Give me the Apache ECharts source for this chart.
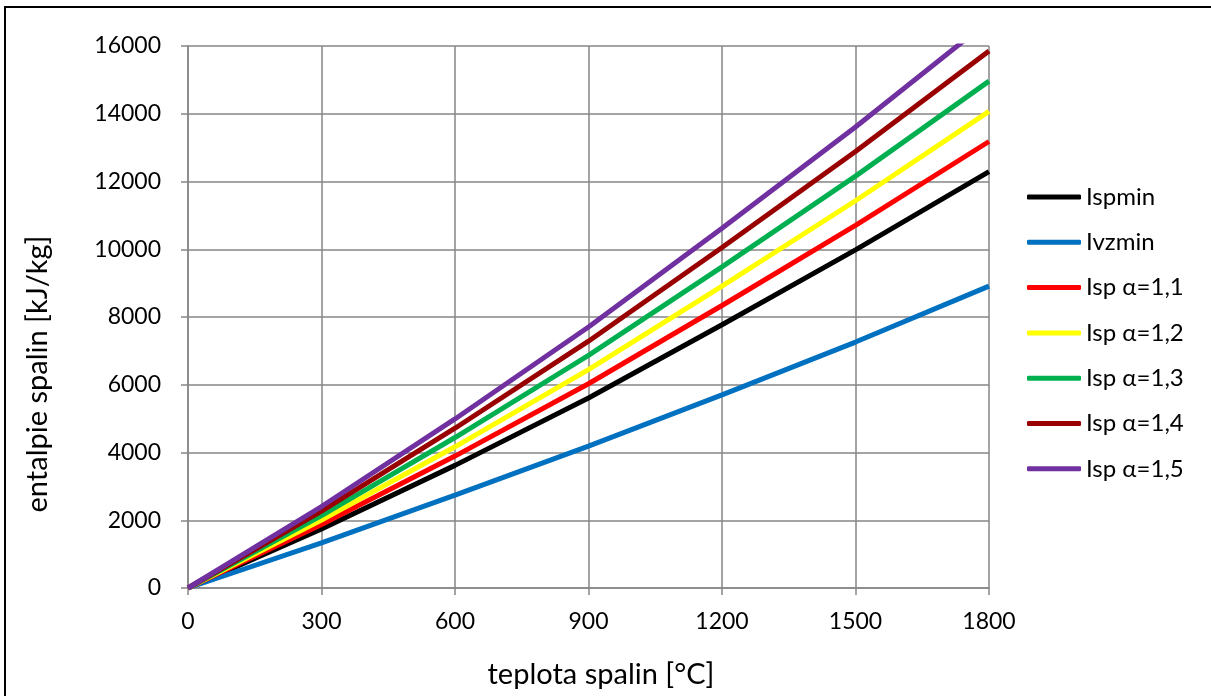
<!DOCTYPE html>
<html>
<head>
<meta charset="utf-8">
<script src="https://cdn.jsdelivr.net/npm/echarts@6/dist/echarts.min.js"></script>
<style>
html,body{margin:0;padding:0;background:#fff;}
#c{width:1211px;height:696px;}
</style>
</head>
<body>
<div id="c"></div>
<script>
const temps = [0, 300, 600, 900, 1200, 1500, 1800];
const ispmin = [0, 1740, 3620, 5610, 7770, 9980, 12290];
const ivzmin = [0, 1330, 2740, 4190, 5700, 7260, 8910];
const isp11 = [0, 1873, 3894, 6029, 8340, 10706, 13181];
const isp12 = [0, 2006, 4168, 6448, 8910, 11432, 14072];
const isp13 = [0, 2139, 4442, 6867, 9480, 12158, 14963];
const isp14 = [0, 2272, 4716, 7286, 10050, 12884, 15854];
const isp15 = [0, 2405, 4990, 7705, 10620, 13610, 16745];
const seriesNames = ['Ispmin', 'Ivzmin', 'Isp α=1,1', 'Isp α=1,2', 'Isp α=1,3', 'Isp α=1,4', 'Isp α=1,5'];
const seriesColors = ['#000000', '#0070C0', '#FF0000', '#FFFF00', '#00B050', '#990000', '#7030A0'];
const seriesData = [ispmin, ivzmin, isp11, isp12, isp13, isp14, isp15];

const FONT = 'Lato';
const chart = echarts.init(document.getElementById('c'));
chart.setOption({
  animation: false,
  backgroundColor: '#ffffff',
  grid: { left: 188, right: 222, top: 46, bottom: 108, containLabel: false },
  xAxis: {
    type: 'value', min: 0, max: 1800, interval: 300,
    axisLine: { show: true, lineStyle: { color: '#868686', width: 1.5 } },
    axisTick: { show: true, length: 7, lineStyle: { color: '#868686', width: 1.5 } },
    axisLabel: { color: '#000', fontFamily: FONT, fontSize: 23, margin: 22, formatter: v => String(v) },
    splitLine: { show: true, lineStyle: { color: '#868686', width: 1.5 } }
  },
  yAxis: {
    type: 'value', min: 0, max: 16000, interval: 2000,
    axisLine: { show: true, lineStyle: { color: '#868686', width: 1.5 } },
    axisTick: { show: true, length: 7, lineStyle: { color: '#868686', width: 1.5 } },
    axisLabel: { color: '#000', fontFamily: FONT, fontSize: 23, margin: 27, formatter: v => String(v) },
    splitLine: { show: true, lineStyle: { color: '#868686', width: 1.5 } }
  },
  legend: {
    orient: 'vertical', left: 1022, top: 180,
    itemWidth: 54, itemHeight: 5, itemGap: 21.3,
    icon: 'roundRect',
    textStyle: { color: '#000', fontFamily: FONT, fontSize: 24, lineHeight: 24 },
    data: seriesNames
  },
  graphic: [
    { type: 'rect', shape: { x: 5, y: 7, width: 1400, height: 900 }, style: { fill: 'none', stroke: '#000', lineWidth: 2 }, silent: true },
    { type: 'text', x: 38, y: 374, rotation: Math.PI / 2, style: { text: 'entalpie spalin [kJ/kg]', fill: '#000', font: '29px ' + FONT, align: 'center', verticalAlign: 'middle' } },
    { type: 'text', x: 601, y: 675, style: { text: 'teplota spalin [°C]', fill: '#000', font: '29px ' + FONT, align: 'center', verticalAlign: 'middle' } }
  ],
  series: seriesNames.map((n, i) => ({
    name: n, type: 'line', showSymbol: false, symbol: 'none',
    color: seriesColors[i],
    lineStyle: { width: 5, color: seriesColors[i] },
    data: temps.map((t, j) => [t, seriesData[i][j]]),
    clip: true
  }))
});
</script>
</body>
</html>
